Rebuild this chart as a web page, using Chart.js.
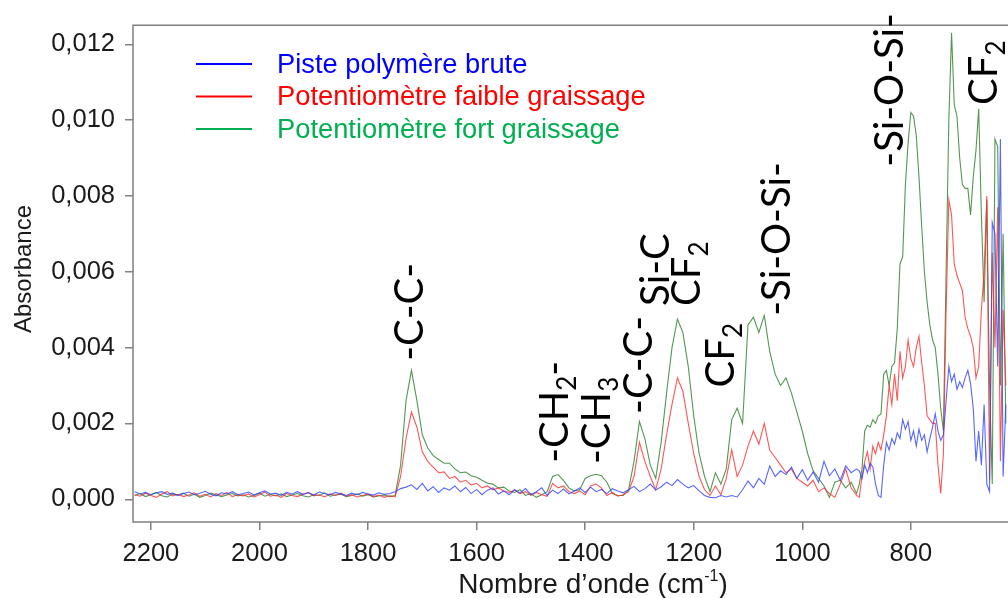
<!DOCTYPE html>
<html>
<head>
<meta charset="utf-8">
<script src="https://cdn.jsdelivr.net/npm/chart.js@4/dist/chart.umd.min.js"></script>
<style>
  html, body { margin: 0; padding: 0; background: #fff; }
  #spectre { display: block; }
</style>
</head>
<body>
<canvas id="spectre" width="1008" height="598"></canvas>
<script>
// nombres d'onde (cm-1) : pas de 10 jusqu'a 900, puis pas de 5
var waveNumbers = [
  2230,2220,2210,2200,2190,2180,2170,2160,2150,2140,
  2130,2120,2110,2100,2090,2080,2070,2060,2050,2040,
  2030,2020,2010,2000,1990,1980,1970,1960,1950,1940,
  1930,1920,1910,1900,1890,1880,1870,1860,1850,1840,
  1830,1820,1810,1800,1790,1780,1770,1760,1750,1740,
  1730,1720,1710,1700,1690,1680,1670,1660,1650,1640,
  1630,1620,1610,1600,1590,1580,1570,1560,1550,1540,
  1530,1520,1510,1500,1490,1480,1470,1460,1450,1440,
  1430,1420,1410,1400,1390,1380,1370,1360,1350,1340,
  1330,1320,1310,1300,1290,1280,1270,1260,1250,1240,
  1230,1220,1210,1200,1190,1180,1170,1160,1150,1140,
  1130,1120,1110,1100,1090,1080,1070,1060,1050,1040,
  1030,1020,1010,1000,990,980,970,960,950,940,
  930,920,910,900,
  895,890,885,880,875,870,865,860,855,850,
  845,840,835,830,825,820,815,810,805,800,
  795,790,785,780,775,770,765,760,755,750,
  745,740,735,730,725,720,715,710,705,700,
  695,690,685,680,675,670,665,660,655,650,
  645,640,635,630,625
];

// absorbances, en unites de 10^-3
var pisteBrute = [
  0.20,0.14,0.18,0.12,0.17,0.20,0.13,0.16,0.10,0.15,
  0.19,0.12,0.16,0.21,0.13,0.09,0.17,0.14,0.20,0.12,
  0.15,0.19,0.11,0.17,0.22,0.14,0.16,0.10,0.18,0.14,
  0.20,0.13,0.17,0.11,0.19,0.15,0.12,0.18,0.14,0.10,
  0.16,0.12,0.18,0.14,0.11,0.17,0.13,0.15,0.20,0.28,
  0.32,0.38,0.26,0.42,0.22,0.33,0.18,0.30,0.24,0.35,
  0.20,0.31,0.15,0.26,0.12,0.24,0.30,0.14,0.22,0.12,
  0.25,0.16,0.28,0.12,0.20,0.30,0.10,0.24,0.15,0.27,
  0.14,0.22,0.30,0.18,0.32,0.20,0.26,0.15,0.28,0.22,
  0.17,0.25,0.34,0.20,0.28,0.40,0.24,0.33,0.45,0.36,
  0.52,0.40,0.30,0.36,0.22,0.10,0.05,0.04,0.10,0.06,
  0.10,0.06,0.25,0.48,0.30,0.55,0.40,0.88,0.60,0.75,
  0.65,0.85,0.55,0.78,0.50,0.72,0.45,1.00,0.62,0.80,
  0.50,0.88,0.70,0.80,
  0.75,0.55,0.90,0.70,0.95,0.85,0.40,0.10,0.05,0.90,
  1.50,1.30,1.60,1.45,1.75,1.60,2.10,1.85,2.05,1.55,
  1.80,1.40,1.85,1.55,1.70,1.25,1.60,1.90,2.25,1.80,
  1.55,1.70,2.60,3.50,3.10,3.30,2.90,3.10,2.95,3.20,
  3.40,3.05,2.40,1.00,1.80,0.90,2.50,0.40,0.20,7.30,
  7.00,3.50,9.50,0.60,2.50
];

var faibleGraissage = [
  0.12,0.08,0.16,0.10,0.05,0.14,0.20,0.09,0.13,0.07,
  0.11,0.17,0.08,0.13,0.06,0.15,0.10,0.18,0.07,0.12,
  0.09,0.14,0.06,0.12,0.19,0.08,0.11,0.05,0.15,0.10,
  0.07,0.13,0.18,0.09,0.12,0.06,0.14,0.10,0.16,0.08,
  0.12,0.06,0.10,0.14,0.07,0.11,0.05,0.09,0.06,0.60,
  1.60,2.30,1.90,1.25,1.00,0.85,0.70,0.72,0.55,0.60,
  0.45,0.50,0.38,0.42,0.30,0.35,0.25,0.30,0.22,0.18,
  0.25,0.15,0.20,0.10,0.18,0.12,0.08,0.42,0.30,0.35,
  0.20,0.15,0.22,0.12,0.35,0.40,0.30,0.10,0.18,0.08,
  0.12,0.20,0.60,1.50,1.00,0.60,0.25,0.80,1.70,2.50,
  3.20,2.85,2.00,1.20,0.60,0.25,0.10,0.35,0.12,0.55,
  1.30,0.60,0.90,1.40,1.80,1.45,2.00,1.30,1.10,0.90,
  0.70,0.80,0.55,0.45,0.35,0.50,0.20,0.30,0.15,0.05,
  0.40,0.80,0.30,0.10,
  0.05,0.60,1.00,1.25,0.80,1.40,1.20,1.50,1.30,1.70,
  2.20,3.00,2.50,3.30,2.60,3.90,3.20,3.50,4.20,3.70,
  3.50,4.00,4.30,3.60,3.00,2.20,2.10,2.00,2.00,0.90,
  0.15,1.20,5.00,7.90,7.50,6.20,5.90,5.70,5.50,4.80,
  4.50,4.30,4.00,3.20,3.50,5.00,6.00,8.00,0.50,6.50,
  4.00,7.70,1.00,5.00,3.00
];

var fortGraissage = [
  0.10,0.15,0.07,0.12,0.18,0.09,0.06,0.14,0.11,0.16,
  0.08,0.13,0.05,0.10,0.16,0.12,0.07,0.11,0.15,0.09,
  0.12,0.06,0.10,0.16,0.08,0.13,0.09,0.14,0.07,0.11,
  0.15,0.09,0.06,0.12,0.10,0.17,0.08,0.11,0.13,0.07,
  0.10,0.14,0.08,0.12,0.06,0.09,0.11,0.07,0.10,0.90,
  2.60,3.40,2.60,1.70,1.35,1.15,1.05,0.95,0.95,0.80,
  0.70,0.72,0.62,0.58,0.50,0.42,0.40,0.30,0.32,0.22,
  0.18,0.25,0.10,0.15,0.05,0.12,0.20,0.60,0.65,0.50,
  0.30,0.22,0.25,0.55,0.62,0.66,0.62,0.45,0.15,0.10,
  0.10,0.25,1.00,2.05,1.60,0.90,0.55,1.50,2.80,4.00,
  4.75,4.40,3.50,2.20,1.20,0.60,0.20,0.70,0.40,0.80,
  2.10,2.40,2.00,4.60,4.80,4.40,4.85,3.90,3.30,3.00,
  3.20,2.80,2.30,1.80,1.20,0.75,0.55,0.35,0.05,0.45,
  0.50,0.30,0.45,0.15,
  0.40,0.80,1.80,1.95,1.90,2.10,2.00,2.20,2.25,3.30,
  3.40,3.00,3.50,3.60,4.50,6.20,6.40,8.30,9.40,10.20,
  10.10,9.60,8.50,7.20,6.00,5.20,4.60,4.20,4.00,3.30,
  2.40,1.80,6.00,10.00,12.30,10.40,10.10,9.00,8.30,8.20,
  8.20,7.50,8.50,9.20,10.30,7.50,5.20,7.90,3.00,0.40,
  9.50,9.30,3.00,7.00,2.00
];

var xTicks = [2200, 2000, 1800, 1600, 1400, 1200, 1000, 800];
var yTicks = [0, 0.002, 0.004, 0.006, 0.008, 0.010, 0.012];

var seriesNames = ['Piste polymère brute', 'Potentiomètre faible graissage', 'Potentiomètre fort graissage'];
var lineColors = ['rgba(45,65,255,0.8)', 'rgba(255,45,45,0.8)', 'rgba(40,125,40,0.8)'];
var legendColors = ['#0000ff', '#ff0000', '#00b050'];

// attributions des bandes : [morceaux de texte, nombre d'onde, absorbance au debut du texte]
var bandLabels = [
  [[['-C-C-']], 1699, 0.00365],
  [[['-CH'], ['2', 1], ['-']], 1432, 0.00096],
  [[['-CH'], ['3', 1]], 1355, 0.00093],
  [[['-C-C-']], 1277, 0.00225],
  [[['Si-C']], 1246, 0.0051],
  [[['CF'], ['2', 1]], 1189, 0.0051],
  [[['CF'], ['2', 1]], 1125, 0.00295],
  [[['-Si-O-Si-']], 1023, 0.00484],
  [[['-Si-O-Si-']], 815, 0.00877],
  [[['CF'], ['2', 1]], 642, 0.0104]
];

function toPoints(values) {
  return waveNumbers.map(function (w, i) { return { x: w, y: values[i] / 1000 }; });
}

var allSeries = [pisteBrute, faibleGraissage, fortGraissage];
var datasets = allSeries.map(function (s, i) {
  return {
    label: seriesNames[i],
    data: toPoints(s),
    borderColor: lineColors[i],
    borderWidth: 1.1,
    pointRadius: 0,
    tension: 0,
    fill: false
  };
});

var annotFont = "40px Lato";

var decorPlugin = {
  id: 'decor',
  afterDraw: function (chart) {
    var ctx = chart.ctx;
    var a = chart.chartArea;
    var xs = chart.scales.x, ys = chart.scales.y;

    // cadre (haut + gauche + bas)
    ctx.save();
    ctx.strokeStyle = '#808080';
    ctx.lineWidth = 1.5;
    ctx.beginPath();
    ctx.moveTo(a.right + 2, a.top);
    ctx.lineTo(a.left, a.top);
    ctx.lineTo(a.left, a.bottom);
    ctx.lineTo(a.right + 2, a.bottom);
    ctx.stroke();

    // legende
    for (var i = 0; i < seriesNames.length; i++) {
      var ly = 64 + i * 32.5;
      ctx.strokeStyle = legendColors[i];
      ctx.lineWidth = 1.8;
      ctx.beginPath();
      ctx.moveTo(196, ly);
      ctx.lineTo(252, ly);
      ctx.stroke();
      ctx.fillStyle = legendColors[i];
      ctx.font = "27.3px 'Liberation Sans'";
      ctx.textBaseline = 'middle';
      ctx.textAlign = 'left';
      ctx.fillText(seriesNames[i], 277, ly + 1);
    }

    // titres des axes
    ctx.fillStyle = '#1a1a1a';
    ctx.textBaseline = 'alphabetic';
    var t1 = "Nombre d’onde (cm", sup = "-1", t2 = ")";
    ctx.font = "28px 'Liberation Sans'";
    var w1 = ctx.measureText(t1).width, w3 = ctx.measureText(t2).width;
    ctx.font = "16px 'Liberation Sans'";
    var w2 = ctx.measureText(sup).width;
    var x0 = 593 - (w1 + w2 + w3) / 2;
    ctx.font = "28px 'Liberation Sans'";
    ctx.fillText(t1, x0, 593);
    ctx.fillText(t2, x0 + w1 + w2, 593);
    ctx.font = "16px 'Liberation Sans'";
    ctx.fillText(sup, x0 + w1, 581);

    ctx.save();
    ctx.translate(31, 269);
    ctx.rotate(-Math.PI / 2);
    ctx.font = "24px 'Liberation Sans'";
    ctx.textAlign = 'center';
    ctx.fillText('Absorbance', 0, 0);
    ctx.restore();

    // attributions des bandes, texte vertical
    ctx.fillStyle = '#000';
    bandLabels.forEach(function (lab) {
      var px = xs.getPixelForValue(lab[1]);
      var py = ys.getPixelForValue(lab[2]);
      ctx.save();
      ctx.translate(px, py);
      ctx.rotate(-Math.PI / 2);
      ctx.textAlign = 'left';
      ctx.textBaseline = 'alphabetic';
      var pos = 0;
      lab[0].forEach(function (part) {
        if (part[1]) {
          ctx.font = "26px Lato";
          ctx.fillText(part[0], pos, 8);
        } else {
          ctx.font = annotFont;
          ctx.fillText(part[0], pos, 0);
        }
        pos += ctx.measureText(part[0]).width;
      });
      ctx.restore();
    });
    ctx.restore();
  }
};

new Chart('spectre', {
  type: 'line',
  data: { datasets: datasets },
  options: {
    responsive: false,
    animation: false,
    layout: { padding: { top: 16, right: 0, left: 0, bottom: 0 } },
    plugins: { legend: { display: false }, tooltip: { enabled: false } },
    scales: {
      x: {
        type: 'linear',
        reverse: true,
        min: 621,
        max: 2233,
        afterFit: function (s) { s.height = 76; },
        afterBuildTicks: function (s) { s.ticks = xTicks.map(function (v) { return { value: v }; }); },
        grid: { drawOnChartArea: false, color: '#808080', tickLength: 8, lineWidth: 1.5 },
        border: { display: false },
        ticks: {
          color: '#1a1a1a',
          font: { family: "'Liberation Sans'", size: 25.5 },
          padding: 9,
          maxRotation: 0,
          callback: function (v) { return String(v); }
        }
      },
      y: {
        type: 'linear',
        min: -0.0006,
        max: 0.0125,
        afterFit: function (s) { s.width = 133; },
        afterBuildTicks: function (s) { s.ticks = yTicks.map(function (v) { return { value: v }; }); },
        grid: { drawOnChartArea: false, color: '#808080', tickLength: 8, lineWidth: 1.5 },
        border: { display: false },
        ticks: {
          color: '#1a1a1a',
          font: { family: "'Liberation Sans'", size: 25.5 },
          padding: 10,
          callback: function (v) { return v.toFixed(3).replace('.', ','); }
        }
      }
    }
  },
  plugins: [decorPlugin]
});
</script>
</body>
</html>
